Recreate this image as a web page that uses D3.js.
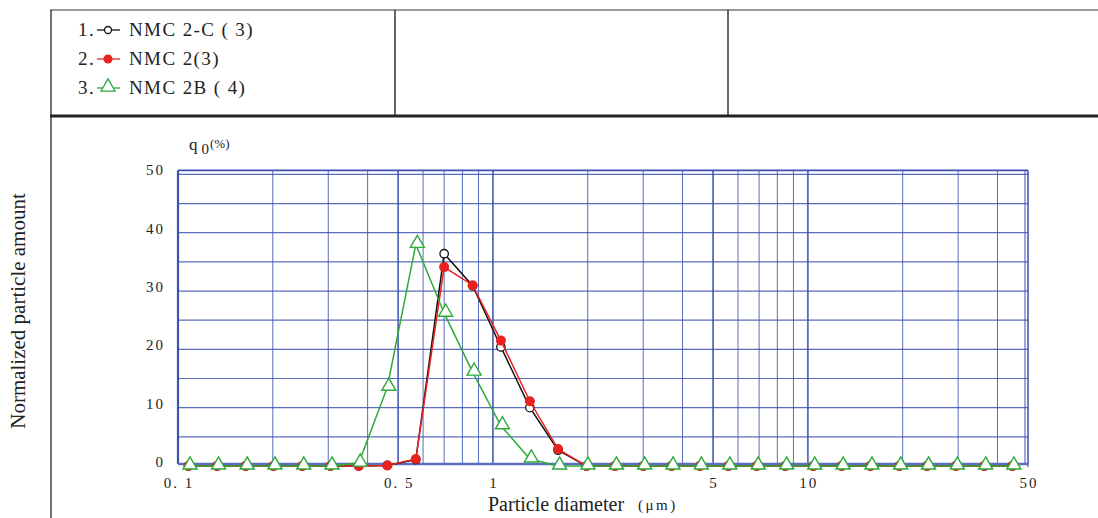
<!DOCTYPE html>
<html>
<head>
<meta charset="utf-8">
<script src="https://cdn.jsdelivr.net/npm/d3@7"></script>
<style>
  body { margin: 0; background: #fff; }
  svg { display: block; }
  text { font-family: "Liberation Serif", "Times New Roman", serif; fill: #222; }
  .tick-label { font-size: 15px; letter-spacing: 2px; }
  .legend-text { font-size: 19px; letter-spacing: 1.4px; }
</style>
</head>
<body>
<div id="chart"></div>
<script>
// Particle size distribution, three samples, log x axis.
const width = 1098;
const height = 518;

// particle diameter bins (um)
const diameters = [0.108, 0.133, 0.164, 0.201, 0.248, 0.305, 0.375, 0.462, 0.569, 0.700,
  0.862, 1.06, 1.31, 1.61, 1.98, 2.44, 3.00, 3.69, 4.54, 5.59,
  6.88, 8.47, 10.4, 12.8, 15.8, 19.5, 23.9, 29.5, 36.3, 44.6];

const nmc2c = [0, 0, 0, 0, 0, 0, 0, 0.1, 1.1, 36.4,
  30.9, 20.4, 10.0, 2.7, 0, 0, 0, 0, 0, 0,
  0, 0, 0, 0, 0, 0, 0, 0, 0, 0];
const nmc2 = [0, 0, 0, 0, 0, 0, 0, 0.1, 1.2, 34.1,
  31.0, 21.5, 11.1, 2.9, 0, 0, 0, 0, 0, 0,
  0, 0, 0, 0, 0, 0, 0, 0, 0, 0];
const nmc2b = [0, 0, 0, 0, 0, 0, 0.5, 13.5, 38.0, 26.2,
  16.1, 6.9, 1.2, 0, 0, 0, 0, 0, 0, 0,
  0, 0, 0, 0, 0, 0, 0, 0, 0, 0];

const xGridValues = [0.1, 0.2, 0.3, 0.4, 0.5, 0.6, 0.7, 0.8, 0.9, 1,
  2, 3, 4, 5, 6, 7, 8, 9, 10, 20, 30, 40, 50];
const xMajor = [0.5, 1, 5, 10];
const xTickValues = [0.1, 0.5, 1, 5, 10, 50];
const xTickLabels = ["0. 1", "0. 5", "1", "5", "10", "50"];
const yGridValues = [5, 10, 15, 20, 25, 30, 35, 40, 45, 50];
const yTickValues = [0, 10, 20, 30, 40, 50];

const legendLabels = ["NMC 2-C ( 3)", "NMC 2(3)", "NMC 2B ( 4)"];

const series = [
  { name: legendLabels[0], values: nmc2c, color: "#111", marker: "open-circle" },
  { name: legendLabels[1], values: nmc2, color: "#e8221f", marker: "dot" },
  { name: legendLabels[2], values: nmc2b, color: "#2eaa3c", marker: "triangle" }
];

const svg = d3.select("#chart")
  .append("svg")
  .attr("width", width)
  .attr("height", height);

// outer table frame
const frame = svg.append("g");
frame.append("line").attr("x1", 50).attr("x2", width).attr("y1", 10).attr("y2", 10)
  .attr("stroke", "#777").attr("stroke-width", 1.5);
frame.append("line").attr("x1", 51).attr("x2", 51).attr("y1", 10).attr("y2", height)
  .attr("stroke", "#444").attr("stroke-width", 1.5);
[395, 728].forEach(x => {
  frame.append("line").attr("x1", x).attr("x2", x).attr("y1", 10).attr("y2", 116)
    .attr("stroke", "#333").attr("stroke-width", 1.5);
});
frame.append("line").attr("x1", 50).attr("x2", width).attr("y1", 116).attr("y2", 116)
  .attr("stroke", "#222").attr("stroke-width", 3);

// scales
const x = d3.scaleLog().domain([0.1, 50]).range([178, 1028]);
const y = d3.scaleLinear().domain([0, 40]).range([466, 232.7]);

const plot = svg.append("g");
const gridColor = "#3d52b0";

plot.selectAll(".hgrid")
  .data(yGridValues)
  .join("line")
  .attr("x1", x(0.1)).attr("x2", x(50))
  .attr("y1", d => y(d)).attr("y2", d => y(d))
  .attr("stroke", gridColor).attr("stroke-opacity", 0.85).attr("stroke-width", 1.2);

plot.selectAll(".vgrid")
  .data(xGridValues)
  .join("line")
  .attr("x1", d => x(d)).attr("x2", d => x(d))
  .attr("y1", y(50) - 4).attr("y2", y(0) - 2)
  .attr("stroke", gridColor)
  .attr("stroke-opacity", 0.85)
  .attr("stroke-width", d => xMajor.includes(d) ? 1.8 : 1);

// frame of the plot
plot.append("line").attr("x1", x(0.1)).attr("x2", x(50)).attr("y1", y(50) - 4).attr("y2", y(50) - 4)
  .attr("stroke", gridColor).attr("stroke-width", 1.8);
plot.append("line").attr("x1", x(0.1)).attr("x2", x(0.1)).attr("y1", y(50) - 4).attr("y2", y(0) - 2)
  .attr("stroke", gridColor).attr("stroke-width", 2.2);
plot.append("line").attr("x1", x(50) - 3).attr("x2", x(50) - 3).attr("y1", y(50) - 4).attr("y2", y(0) - 2)
  .attr("stroke", gridColor).attr("stroke-width", 1);
plot.append("line").attr("x1", x(50)).attr("x2", x(50)).attr("y1", y(50) - 4).attr("y2", y(0) + 1)
  .attr("stroke", gridColor).attr("stroke-width", 1.2);
plot.append("line").attr("x1", x(0.1)).attr("x2", x(50)).attr("y1", y(0) - 2).attr("y2", y(0) - 2)
  .attr("stroke", "#5a6dc0").attr("stroke-width", 2.5);

// tick labels
svg.selectAll(".ytick")
  .data(yTickValues)
  .join("text")
  .attr("class", "tick-label")
  .attr("x", 165)
  .attr("y", d => y(d) + 1)
  .attr("text-anchor", "end")
  .text(d => d);

svg.selectAll(".xtick")
  .data(xTickValues)
  .join("text")
  .attr("class", "tick-label")
  .attr("x", d => x(d) + 1)
  .attr("y", y(0) + 22)
  .attr("text-anchor", "middle")
  .text((d, i) => xTickLabels[i]);

// axis titles
const q0 = svg.append("text").attr("x", 189).attr("y", 150).style("font-size", "17px");
q0.append("tspan").text("q");
q0.append("tspan").attr("dx", 4).attr("dy", 4).style("font-size", "15px").text("0");
q0.append("tspan").attr("dx", 1).attr("dy", -6).style("font-size", "13px").text("(%)");

const xt = svg.append("text").attr("x", 488).attr("y", 511).style("font-size", "20px");
xt.append("tspan").text("Particle diameter");
xt.append("tspan").attr("dx", 14).attr("dy", -1).style("font-size", "15px")
  .style("letter-spacing", "2.5px").text("(μm)");

svg.append("text")
  .attr("transform", "rotate(-90)")
  .attr("x", -311)
  .attr("y", 25)
  .attr("text-anchor", "middle")
  .style("font-size", "21px")
  .text("Normalized particle amount");

// lines and markers
const line = d3.line()
  .x(d => x(d.d))
  .y(d => y(d.v));

const tri = d3.symbol().type(d3.symbolTriangle).size(85);

series.forEach(s => {
  const pts = diameters.map((d, i) => ({ d: d, v: s.values[i] }));
  const g = plot.append("g");
  g.append("path")
    .datum(pts)
    .attr("fill", "none")
    .attr("stroke", s.color)
    .attr("stroke-width", 1.5)
    .attr("d", line);

  if (s.marker === "triangle") {
    g.selectAll("path.m")
      .data(pts)
      .join("path")
      .attr("class", "m")
      .attr("transform", d => `translate(${x(d.d) + 1.5},${y(d.v) - 1})`)
      .attr("d", tri)
      .attr("fill", "#fff")
      .attr("stroke", s.color)
      .attr("stroke-width", 1.4);
  } else {
    g.selectAll("circle")
      .data(pts)
      .join("circle")
      .attr("cx", d => x(d.d))
      .attr("cy", d => y(d.v))
      .attr("r", s.marker === "dot" ? 5 : 4.2)
      .attr("fill", s.marker === "dot" ? s.color : "#fff")
      .attr("stroke", s.color)
      .attr("stroke-width", s.marker === "dot" ? 0 : 1.3);
  }
});

// legend
const legendRows = [30, 59, 88];
series.forEach((s, i) => {
  const ly = legendRows[i];
  svg.append("text").attr("class", "legend-text").attr("x", 78).attr("y", ly + 6)
    .text(`${i + 1}.`);
  svg.append("line").attr("x1", 97).attr("x2", 120).attr("y1", ly).attr("y2", ly)
    .attr("stroke", s.color).attr("stroke-width", 1.3);
  if (s.marker === "triangle") {
    svg.append("path").attr("transform", `translate(108,${ly - 1})`).attr("d", tri)
      .attr("fill", "#fff").attr("stroke", s.color).attr("stroke-width", 1.3);
  } else {
    svg.append("circle").attr("cx", 108).attr("cy", ly)
      .attr("r", s.marker === "dot" ? 4.5 : 3.5)
      .attr("fill", s.marker === "dot" ? s.color : "#fff")
      .attr("stroke", s.color).attr("stroke-width", s.marker === "dot" ? 0 : 1.3);
  }
  svg.append("text").attr("class", "legend-text").attr("x", 129).attr("y", ly + 6)
    .text(s.name);
});
</script>
</body>
</html>
